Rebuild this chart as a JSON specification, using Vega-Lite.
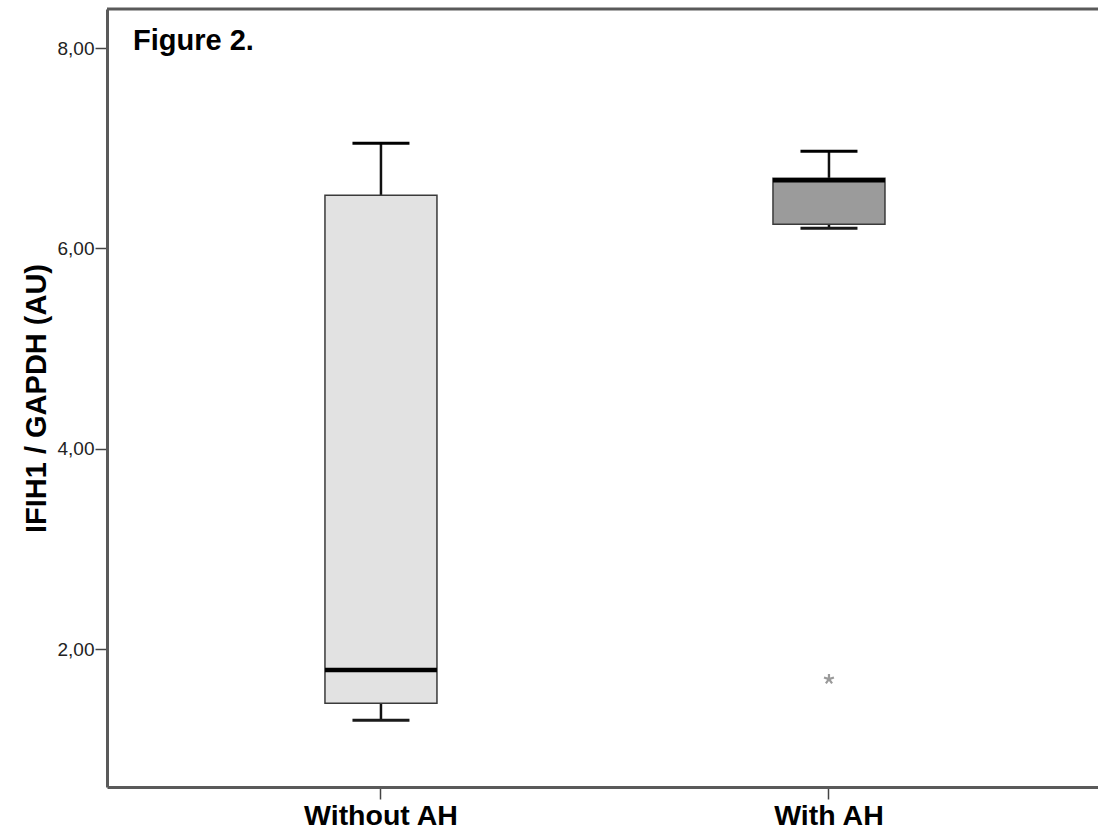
{
  "$schema": "https://vega.github.io/schema/vega-lite/v6.json",
  "width": 991,
  "height": 778,
  "autosize": {"type": "none"},
  "padding": {"left": 107, "top": 9, "right": 0, "bottom": 49},
  "background": "white",
  "config": {
    "view": {"stroke": null},
    "font": "Liberation Sans"
  },
  "title": {
    "text": "Figure 2.",
    "anchor": "start",
    "frame": "group",
    "orient": "top",
    "offset": -71,
    "dx": 26,
    "fontSize": 29,
    "fontWeight": "bold",
    "color": "#000000",
    "font": "Liberation Sans",
    "baseline": "alphabetic"
  },
  "datasets": {
    "boxes": [
      {"group": "Without AH", "lower": 1.29, "q1": 1.46, "median": 1.79, "q3": 6.53, "upper": 7.05},
      {"group": "With AH", "lower": 6.20, "q1": 6.24, "median": 6.68, "q3": 6.70, "upper": 6.97}
    ],
    "outliers": [
      {"group": "With AH", "value": 1.70}
    ]
  },
  "layer": [
    {
      "data": {"name": "boxes"},
      "mark": {"type": "rule", "color": "#111111", "strokeWidth": 2.5},
      "encoding": {
        "x": {
          "field": "group",
          "type": "nominal",
          "sort": ["Without AH", "With AH"],
          "scale": {"domain": ["Without AH", "With AH"], "paddingInner": 0, "paddingOuter": 0.106, "align": 0.526},
          "axis": {
            "title": null,
            "labelAngle": 0,
            "labelFont": "Liberation Sans",
            "labelFontSize": 28.5,
            "labelFontWeight": "bold",
            "labelColor": "#000000",
            "labelPadding": 2,
            "tickSize": 12,
            "tickWidth": 1.5,
            "tickColor": "#444444",
            "domainColor": "#5a5a5a",
            "domainWidth": 3,
            "grid": false
          }
        },
        "y": {
          "field": "lower",
          "type": "quantitative",
          "scale": {"domain": [0.623, 8.39], "nice": false, "zero": false},
          "axis": {
            "title": "IFIH1 / GAPDH (AU)",
            "titleFont": "Liberation Sans",
            "titleFontSize": 29,
            "titleFontWeight": "bold",
            "titleColor": "#000000",
            "titlePadding": 6,
            "values": [2, 4, 6, 8],
            "labelExpr": "replace(format(datum.value, '.2f'), '.', ',')",
            "labelFont": "Liberation Sans",
            "labelFontSize": 19,
            "labelColor": "#222222",
            "labelPadding": 1,
            "tickSize": 12,
            "tickWidth": 1.5,
            "tickColor": "#444444",
            "domainColor": "#5a5a5a",
            "domainWidth": 3,
            "grid": false
          }
        },
        "y2": {"field": "upper"}
      }
    },
    {
      "data": {"name": "boxes"},
      "mark": {"type": "tick", "color": "#000000", "opacity": 1, "size": 57, "thickness": 3},
      "encoding": {
        "x": {"field": "group", "type": "nominal"},
        "y": {"field": "upper", "type": "quantitative"}
      }
    },
    {
      "data": {"name": "boxes"},
      "mark": {"type": "tick", "color": "#1a1a1a", "opacity": 1, "size": 57, "thickness": 3},
      "encoding": {
        "x": {"field": "group", "type": "nominal"},
        "y": {"field": "lower", "type": "quantitative"}
      }
    },
    {
      "data": {"name": "boxes"},
      "mark": {"type": "bar", "size": 112, "stroke": "#3a3a3a", "strokeWidth": 1.5, "opacity": 1},
      "encoding": {
        "x": {"field": "group", "type": "nominal"},
        "y": {"field": "q1", "type": "quantitative"},
        "y2": {"field": "q3"},
        "color": {
          "field": "group",
          "type": "nominal",
          "scale": {"domain": ["Without AH", "With AH"], "range": ["#e2e2e2", "#9b9b9b"]},
          "legend": null
        }
      }
    },
    {
      "data": {"name": "boxes"},
      "mark": {"type": "tick", "color": "#000000", "opacity": 1, "size": 112, "thickness": 4.5},
      "encoding": {
        "x": {"field": "group", "type": "nominal"},
        "y": {"field": "median", "type": "quantitative"}
      }
    },
    {
      "data": {"name": "outliers"},
      "mark": {
        "type": "point",
        "shape": "M0,-1L0,0M0.95,-0.31L0,0M0.59,0.81L0,0M-0.59,0.81L0,0M-0.95,-0.31L0,0",
        "filled": false,
        "opacity": 1,
        "stroke": "#9a9a9a",
        "strokeWidth": 2.2,
        "size": 110
      },
      "encoding": {
        "x": {"field": "group", "type": "nominal"},
        "y": {"field": "value", "type": "quantitative"}
      }
    },
    {
      "data": {"values": [{"v": 1}]},
      "mark": {"type": "rule", "color": "#5a5a5a", "strokeWidth": 3},
      "encoding": {
        "y": {"datum": 8.39, "type": "quantitative"}
      }
    }
  ]
}
